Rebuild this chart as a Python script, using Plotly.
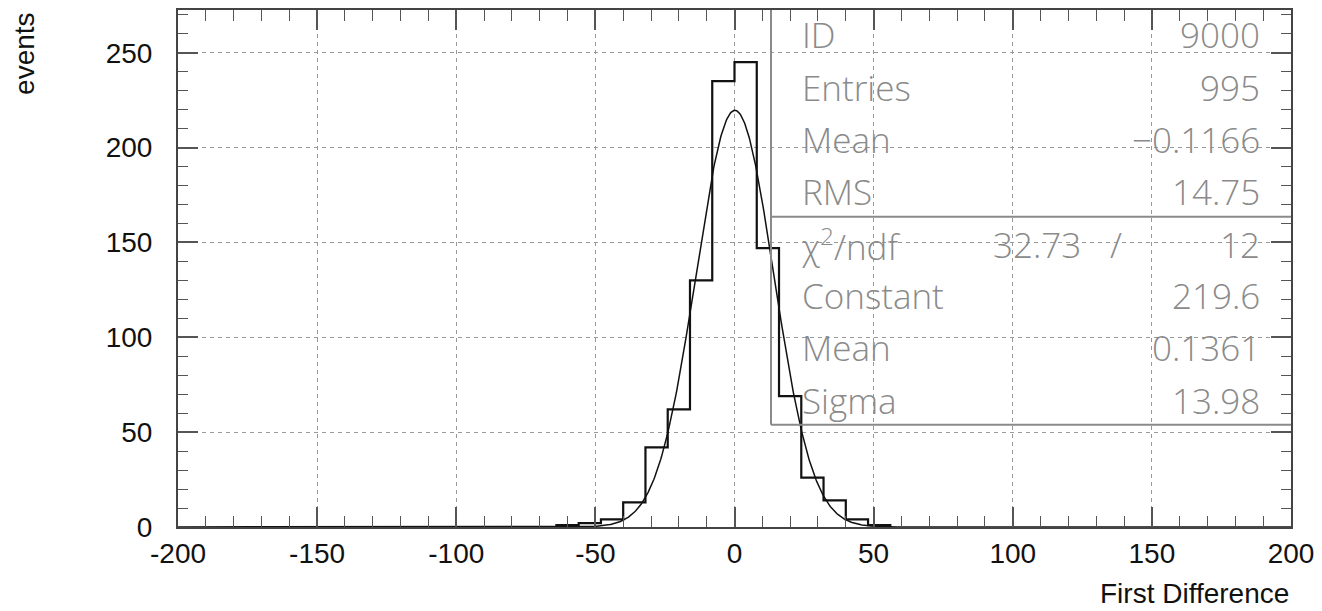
import numpy as np
import plotly.graph_objects as go

# ---------------- data ----------------
bin_low_edges = [-64, -56, -48, -40, -32, -24, -16, -8, 0, 8, 16, 24, 32, 40, 48]
bin_width = 8
bin_counts = [1, 2, 4, 13, 42, 62, 130, 235, 245, 147, 69, 26, 14, 4, 1]

fit_params = {"Constant": 219.6, "Mean": 0.1361, "Sigma": 13.98}

stats_labels = ["ID", "Entries", "Mean", "RMS"]
stats_values = ["9000", "995", "\u22120.1166", "14.75"]
chi2_text = ["32.73", "12"]
fit_labels = ["Constant", "Mean", "Sigma"]
fit_values = ["219.6", "0.1361", "13.98"]

x_tick_vals = [-200, -150, -100, -50, 0, 50, 100, 150, 200]
x_tick_text = ["-200", "-150", "-100", "-50", "0", "50", "100", "150", "200"]
y_tick_vals = [0, 50, 100, 150, 200, 250]

# ---------------- histogram step ----------------
hx = [bin_low_edges[0]] + bin_low_edges + [bin_low_edges[-1] + bin_width]
hy = [0] + bin_counts + [0]

# fit curve from the displayed fit parameters
xf = np.linspace(-200, 200, 1601)
yf = fit_params["Constant"] * np.exp(-0.5 * ((xf - fit_params["Mean"]) / fit_params["Sigma"]) ** 2)

fig = go.Figure()
fig.add_trace(go.Scatter(x=hx, y=hy, mode="lines", line=dict(shape="hv", color="#111", width=2.2),
                         hoverinfo="skip", showlegend=False))
fig.add_trace(go.Scatter(x=xf, y=yf, mode="lines", line=dict(color="#111", width=1.5),
                         hoverinfo="skip", showlegend=False))

axis_font = dict(family="Liberation Sans, Arial, sans-serif", size=28, color="#111")
common = dict(
    showline=True, linecolor="#444", linewidth=2, mirror="allticks",
    ticks="inside", ticklen=20, tickwidth=1.5, tickcolor="#555",
    showgrid=True, gridcolor="#999", gridwidth=1, griddash="4px,4px",
    zeroline=False, tickfont=axis_font,
)
fig.update_xaxes(range=[-200, 200], tickvals=x_tick_vals, ticktext=x_tick_text,
                 minor=dict(ticks="inside", dtick=10, tick0=0, ticklen=11, tickwidth=1.2,
                            tickcolor="#555", showgrid=False),
                 **common)
fig.update_yaxes(range=[0, 272.5], tickvals=y_tick_vals, ticklabelstandoff=18,
                 minor=dict(ticks="inside", dtick=10, tick0=0, ticklen=10, tickwidth=1.2,
                            tickcolor="#555", showgrid=False),
                 **common)

# ---------------- stats box ----------------
box_col = "#8a8a8a"
x0, x1 = 0.5328, 1.0
y_top, y_sep, y_bot = 1.0, 0.600, 0.198
shapes = [
    dict(type="line", xref="paper", yref="paper", x0=x0, x1=x0, y0=y_bot, y1=y_top,
         line=dict(color=box_col, width=2)),
    dict(type="line", xref="paper", yref="paper", x0=x0, x1=x1, y0=y_sep, y1=y_sep,
         line=dict(color=box_col, width=2)),
    dict(type="line", xref="paper", yref="paper", x0=x0, x1=x1, y0=y_bot, y1=y_bot,
         line=dict(color=box_col, width=2)),
]
fig.update_layout(shapes=shapes)

stat_font = dict(family="DejaVu Sans ExtraLight, Open Sans, DejaVu Sans, sans-serif",
                 size=35, color="#8a8a8a", weight=300)
xl, xr = 0.559, 0.974
upper_rows = [0.952, 0.851, 0.750, 0.649]
lower_rows = [0.547, 0.447, 0.347, 0.245]
ann = []
for lab, val, yy in zip(stats_labels, stats_values, upper_rows):
    ann.append(dict(x=xl, y=yy, text=lab, xanchor="left"))
    ann.append(dict(x=xr, y=yy, text=val, xanchor="right"))
ann.append(dict(x=xl, y=lower_rows[0], text="\u03c7<sup>2</sup>/ndf", xanchor="left"))
ann.append(dict(x=0.772, y=lower_rows[0], text=chi2_text[0], xanchor="center"))
ann.append(dict(x=0.843, y=lower_rows[0], text="/", xanchor="center"))
ann.append(dict(x=xr, y=lower_rows[0], text=chi2_text[1], xanchor="right"))
for lab, val, yy in zip(fit_labels, fit_values, lower_rows[1:]):
    ann.append(dict(x=xl, y=yy, text=lab, xanchor="left"))
    ann.append(dict(x=xr, y=yy, text=val, xanchor="right"))
for a in ann:
    a.update(xref="paper", yref="paper", yanchor="middle", showarrow=False, font=stat_font)

# axis titles
title_font = dict(family="Liberation Sans, Arial, sans-serif", size=28, color="#111")
ann.append(dict(xref="paper", yref="paper", x=1.0, y=-0.128, text="First Difference",
                xanchor="right", yanchor="middle", showarrow=False, font=title_font))
ann.append(dict(xref="paper", yref="paper", x=-0.138, y=1.0, text="events", textangle=-90,
                xanchor="center", yanchor="top", showarrow=False, font=title_font))
fig.update_layout(annotations=ann)

fig.update_layout(
    width=1314, height=603,
    margin=dict(l=170, r=31, t=0, b=84),
    paper_bgcolor="white", plot_bgcolor="white",
    showlegend=False,
)

fig.write_html("out.html")
